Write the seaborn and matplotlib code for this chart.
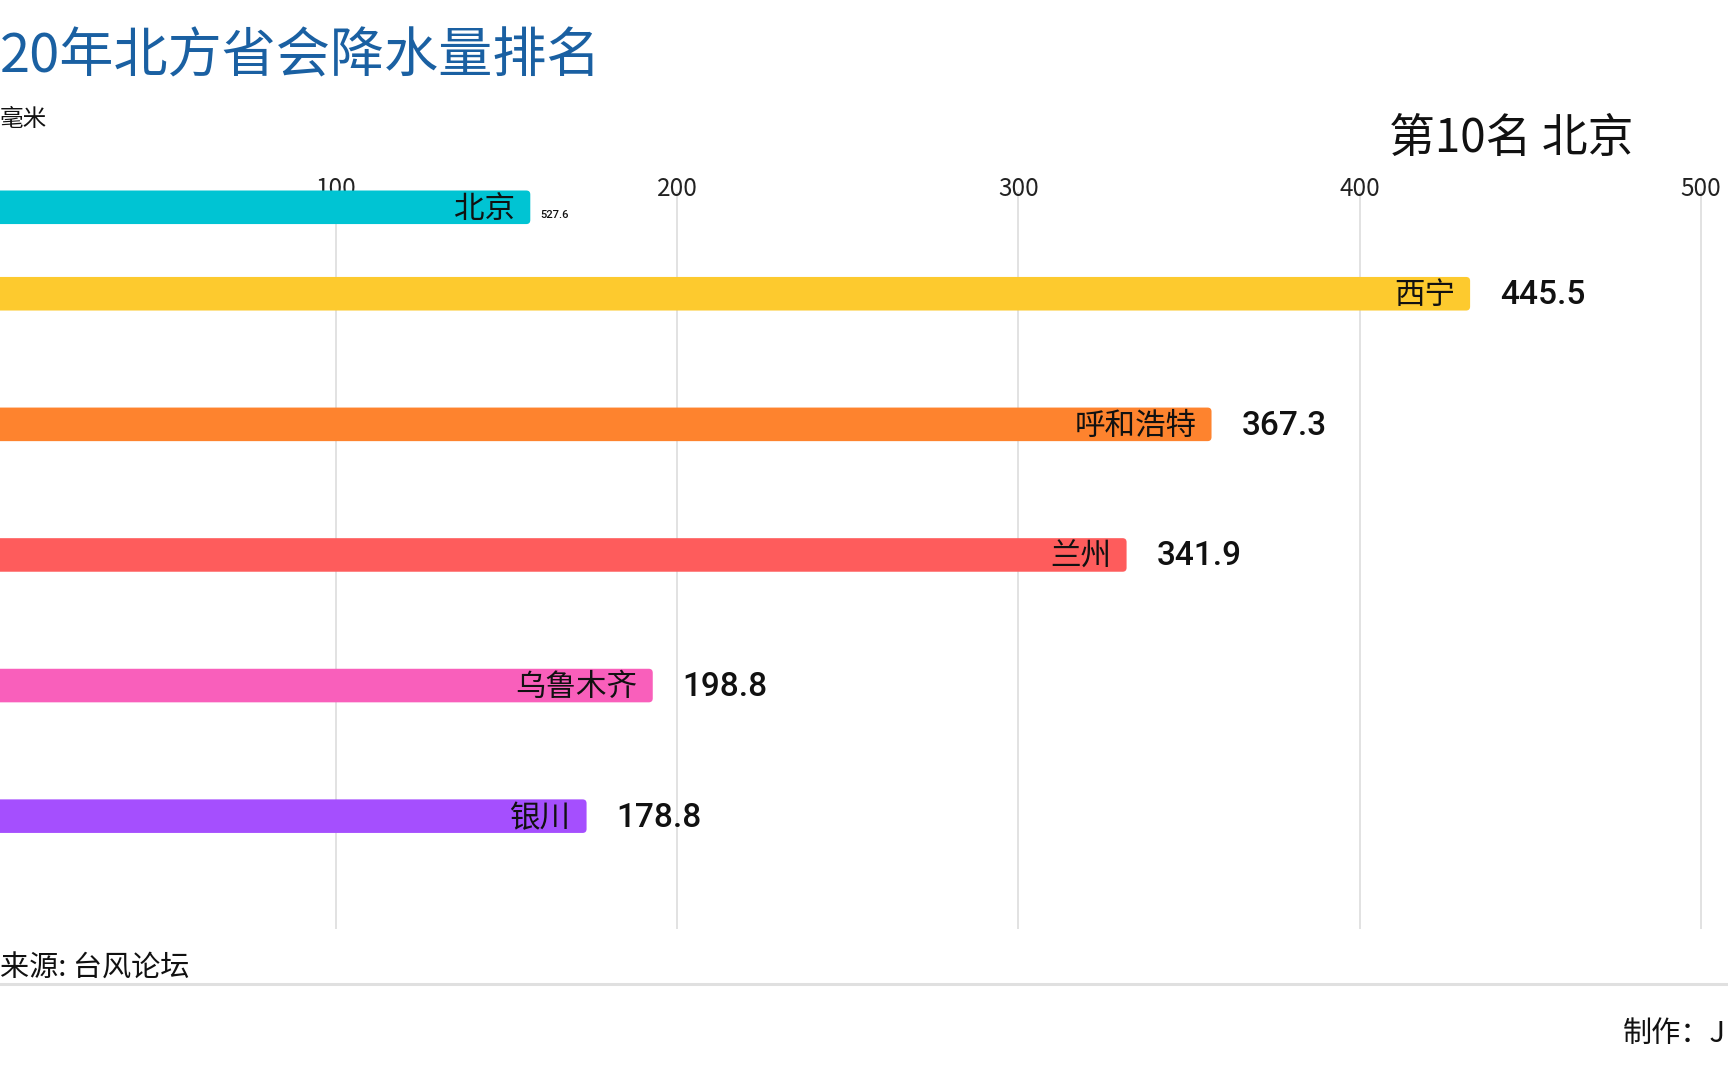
import numpy as np
import pandas as pd
import matplotlib
matplotlib.use("Agg")
import matplotlib.pyplot as plt
from matplotlib.patches import FancyBboxPatch, Rectangle
from matplotlib.lines import Line2D
import seaborn as sns

# ---------------- data ----------------
cities = ["北京", "西宁", "呼和浩特", "兰州", "乌鲁木齐", "银川"]
value_labels = [527.6, 445.5, 367.3, 341.9, 198.8, 178.8]       # labels shown
bar_lengths = [156.9, 432.4, 356.6, 331.7, 192.8, 173.4]         # drawn bar length (animation frame)
bar_colors = ["#00c4d3", "#fdca2e", "#fe832e", "#fe5c5c", "#f95fbb", "#a54ffe"]
xticks = [100, 200, 300, 400, 500]

title = "20年北方省会降水量排名"
unit = "毫米"
rank_text = "第10名 北京"
source = "来源: 台风论坛"
author = "制作：J"

# ---------------- layout ----------------
W, H = 1728, 1080
row_pos = [0.338, 1, 2, 3, 4, 5]
bar_h = 0.257
ax_top_px, ax_bot_px = 192, 929

sns.set_theme(style="white")
plt.rcParams["font.family"] = ["Noto Sans CJK SC", "DejaVu Sans"]

fig = plt.figure(figsize=(W / 100, H / 100), dpi=100)
fig.patch.set_facecolor("white")
ax = fig.add_axes([0, 1 - ax_bot_px / H, 1, (ax_bot_px - ax_top_px) / H])

df = pd.DataFrame({"city": cities, "bar": bar_lengths, "pos": row_pos})
native = np.nanmin(np.diff(np.unique(row_pos)))
sns.barplot(data=df, x="bar", y="pos", hue="city", hue_order=cities,
            palette=bar_colors, orient="y", native_scale=True,
            width=bar_h / native, dodge=False, legend=False,
            saturation=1, ax=ax, linewidth=0, zorder=3)

ax.set_xlim(1.45, 508.0)
ax.set_ylim(5.864, 0.221)

# round bar corners
fig.canvas.draw()
x_per_px = (ax.get_xlim()[1] - ax.get_xlim()[0]) / (W * 1.0)
y_per_px = abs(ax.get_ylim()[0] - ax.get_ylim()[1]) / (ax_bot_px - ax_top_px)
aspect = y_per_px / x_per_px
for p in list(ax.patches):
    if isinstance(p, Rectangle):
        x0, y0 = p.get_x(), p.get_y()
        w, h = p.get_width(), p.get_height()
        fb = FancyBboxPatch((x0, y0), w, h,
                            boxstyle=f"round,pad=0,rounding_size={4 * x_per_px}",
                            mutation_aspect=aspect,
                            facecolor=p.get_facecolor(), edgecolor="none",
                            zorder=3, clip_on=False)
        p.remove()
        ax.add_patch(fb)

ax.set_xticks(xticks)
ax.set_xticklabels([str(t) for t in xticks])
ax.xaxis.tick_top()
ax.tick_params(axis="x", length=0, pad=-7, labelsize=17.5, labelcolor="#222222")
ax.set_yticks([])
ax.set_xlabel("")
ax.set_ylabel("")
ax.grid(axis="x", color="#e2e2e2", linewidth=1.4)
ax.grid(axis="y", visible=False)
ax.set_axisbelow(True)
for s in ax.spines.values():
    s.set_visible(False)

# bar labels
for i, (c, v, b, y) in enumerate(zip(cities, value_labels, bar_lengths, row_pos)):
    ax.annotate(c, xy=(b, y), xytext=(-11, -1.5), textcoords="offset points",
                ha="right", va="center", fontsize=22, color="#111111", zorder=5)
    if i == 0:
        ax.annotate(f"{v:.1f}", xy=(b, y), xytext=(7.5, -5.5), textcoords="offset points",
                    ha="left", va="center", fontsize=8, color="#111111",
                    family=["Roboto", "DejaVu Sans"], fontweight="medium", zorder=5)
    else:
        ax.annotate(f"{v:.1f}", xy=(b, y), xytext=(21.5, -1), textcoords="offset points",
                    ha="left", va="center", fontsize=24, color="#111111",
                    family=["Roboto", "DejaVu Sans"], fontweight="medium", zorder=5)

# figure texts
fig.text(0, 1 - 57 / H, title, fontsize=39, color="#1a60a2", ha="left", va="center")
fig.text(0, 1 - 119 / H, unit, fontsize=17, color="#111111", ha="left", va="center")
fig.text(1389 / W, 1 - 139 / H, rank_text, fontsize=33, color="#111111", ha="left", va="center")
fig.text(0, 1 - 969 / H, source, fontsize=21, color="#111111", ha="left", va="center")
fig.add_artist(Line2D([0, 1], [1 - 984 / H] * 2, color="#e0e0e0", linewidth=2.2,
                      transform=fig.transFigure))
fig.text(1623 / W, 1 - 1034 / H, author, fontsize=21, color="#111111", ha="left", va="center")

fig.savefig("out.png", dpi=100, facecolor="white")
